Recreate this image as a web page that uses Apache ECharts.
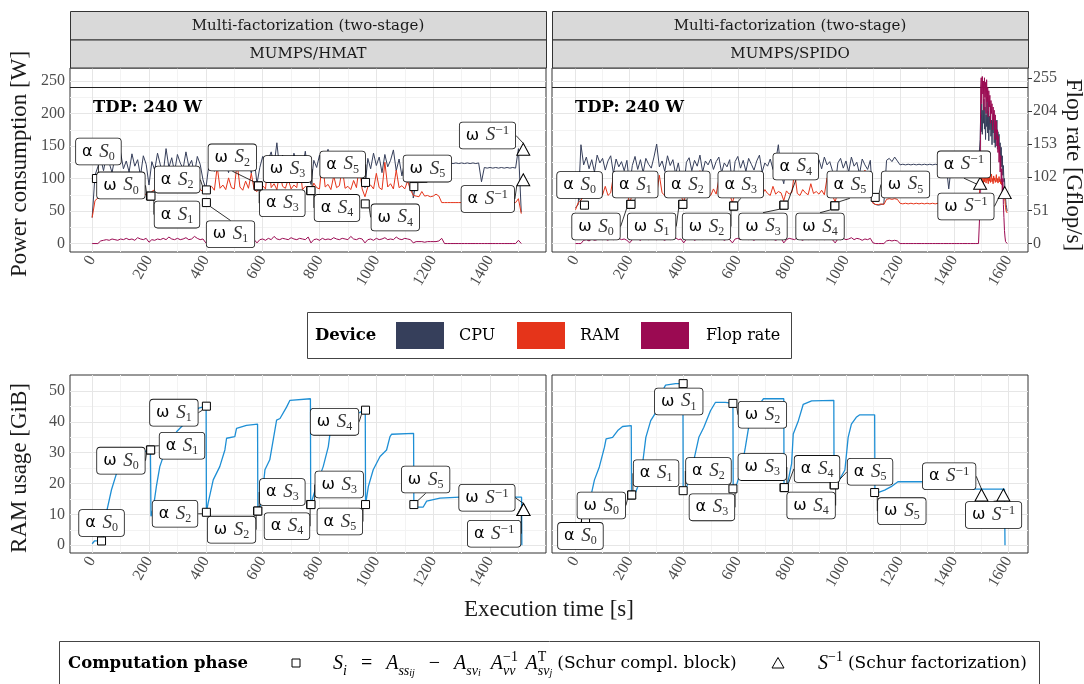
<!DOCTYPE html>
<html><head><meta charset="utf-8">
<script src="https://cdn.jsdelivr.net/npm/echarts@6/dist/echarts.min.js"></script>
<style>html,body{margin:0;padding:0;background:#fff}#c{width:1084px;height:684px}</style>
</head><body><div id="c"></div>
<script>
// ================= DATA =================
const TDP = 240;
const STEP = 10; // seconds between samples of the main power arrays
// MUMPS/HMAT power (W), t = 0,10,20,...
const cpuHmat = [
 40,105,118,131,112,136,124,109,133,121,
 140,115,127,110,138,119,129,104,135,122,
 90,126,113,139,121,108,146,117,132,110,
 137,124,115,141,119,128,107,134,122,98,
 84,119,135,111,128,143,116,125,109,138,
 121,132,114,140,118,127,108,131,92,117,
 134,112,129,141,120,155,113,136,118,127,
 110,139,122,131,115,142,108,91,128,117,
 136,113,129,145,119,132,110,138,121,126,
 107,134,118,140,123,112,86,131,115,139,
 120,133,109,137,118,128,144,112,130,104,
 127,115,135,70,95,123,124,123,124,123,
 124,123,124,123,124,123,124,123,124,123,
 124,123,124,123,124,123,124,95,117,116,
 117,116,117,116,117,116,117,116,117,116,
 146,48];
const ramHmat = [
 40,66,70,72,74,73,75,74,76,73,
 75,96,74,77,75,88,76,74,78,75,
 72,80,83,79,98,81,84,80,112,82,
 79,85,81,103,80,84,82,95,83,80,
 78,84,88,82,118,85,90,83,101,86,
 84,124,87,82,96,85,108,83,80,86,
 89,84,131,86,92,83,110,88,85,99,
 84,90,86,122,83,88,85,79,93,86,
 84,128,87,91,83,104,86,89,116,85,
 88,83,97,86,119,84,72,87,90,84,
 108,86,83,125,87,92,84,113,86,89,
 84,96,83,74,73,72,80,73,74,72,
 73,76,73,63,63,63,63,63,63,63,
 63,63,63,63,63,63,63,63,63,63,
 63,63,63,63,63,63,63,63,63,63,
 69,46];
const flopHmat = [
 0,0,0,4,5,6,5,7,6,5,
 7,6,8,6,7,5,9,7,6,8,
 2,6,5,7,6,8,6,10,7,6,
 8,6,7,9,6,7,11,8,6,7,
 1,6,5,7,8,6,7,5,9,7,
 6,8,7,10,6,7,8,6,1,6,
 7,5,8,6,11,7,6,8,7,6,
 9,7,6,8,7,6,10,1,6,7,
 5,8,6,7,6,9,7,6,8,7,
 6,11,7,6,8,7,1,6,7,5,
 8,6,7,9,6,7,6,10,7,6,
 8,7,6,1,3,3,3,2,3,3,
 3,3,4,8,0,0,0,0,0,0,
 0,0,0,0,0,0,0,0,0,0,
 0,0,0,0,0,0,0,0,0,0,
 5,0];
// MUMPS/SPIDO power (W), t = 0,10,...,1490 then fine samples every 2 s from t = 1492
const cpuSpido = [
 55,60,152,121,133,115,129,110,136,124,
 131,113,127,135,108,130,118,126,112,128,
 88,120,134,114,129,109,131,122,116,133,
 153,118,127,111,135,120,129,107,124,99,
 86,125,132,112,128,119,136,110,127,121,
 130,114,126,133,109,124,118,129,90,126,
 134,116,128,111,131,122,113,127,136,110,
 124,119,130,114,127,152,108,92,125,131,
 113,128,120,134,110,126,117,131,122,108,
 129,115,133,121,126,112,88,124,131,116,
 127,110,133,119,125,107,130,121,114,128,
 62,60,59,60,61,128,131,126,133,127,
 121,122,121,122,121,122,121,122,121,122,
 121,122,121,122,121,122,121,122,84,122,
 121,122,121,122,121,122,121,122,121,122];
const ramSpido = [
 52,63,66,74,79,72,101,76,73,80,
 75,88,74,78,104,77,73,82,76,79,
 62,76,81,74,98,77,73,86,75,79,
 76,105,78,74,82,77,96,75,80,73,
 64,78,74,87,76,79,112,75,81,77,
 74,84,76,99,78,73,80,76,63,77,
 82,75,94,78,74,81,76,107,79,75,
 83,77,74,88,76,80,78,66,81,76,
 79,110,77,74,83,78,75,92,77,80,
 76,82,75,101,78,74,64,80,77,86,
 75,79,97,76,81,74,78,113,76,79,
 62,60,60,61,60,68,69,68,69,68,
 62,61,62,61,62,61,62,61,62,61,
 62,61,62,61,62,61,62,61,62,61,
 62,61,62,61,62,61,62,61,62,61];
const flopSpido = [
 0,0,0,5,6,4,7,5,6,8,
 6,7,5,9,6,7,8,6,7,5,
 1,6,8,7,5,9,7,6,8,7,
 6,10,7,5,8,6,7,9,6,7,
 1,7,6,8,5,7,9,6,7,8,
 6,7,10,6,8,5,7,6,1,7,
 8,6,7,9,6,7,5,8,7,6,
 9,6,8,7,5,7,8,1,6,8,
 7,6,9,7,5,8,6,7,10,6,
 7,8,6,7,9,6,1,7,6,8,
 6,7,9,6,8,7,5,7,6,8,
 1,0,0,0,0,4,5,4,5,4,
 0,0,0,0,0,0,0,0,0,0,
 0,0,0,0,0,0,0,0,0,0,
 0,0,0,0,0,0,0,0,0,0];
const END_T0 = 1492, END_STEP = 2;
const cpuSpidoEnd = [122,122,160,198,172,215,168,205,185,222,176,210,160,198,180,225,170,204,158,196,175,212,165,190,152,188,170,200,155,182,148,176,160,190,145,172,150,168,138,155,130,148,118,135,105,120,95,100,82,70,60,55,50];
const ramSpidoEnd = [62,62,88,95,102,92,108,97,90,104,95,110,99,93,106,97,101,92,108,96,103,94,99,107,95,100,92,104,97,101,94,98,106,95,100,93,97,103,95,99,92,96,90,95,88,85,80,72,65,55,50,48,47];
const flopSpidoEnd = [0,0,60,240,255,215,257,230,250,205,255,225,248,200,252,218,240,195,235,210,228,185,220,200,215,175,210,190,205,160,198,170,188,150,175,140,165,125,150,110,135,95,115,80,100,60,40,20,10,3,0,0,0];

// RAM usage (GiB) [t, GiB]
const ramUseHmat = [[0,0.5],[8,1.4],[38,1.4],[44,6],[50,10.5],[68,18],[86,23.4],[110,26.5],[140,28.5],[170,30],[205,30.9],[207,9.4],[215,12],[226,19.1],[238,25.5],[262,32],[297,36.8],[320,39],[350,42],[375,44.5],[401,45.1],[402,10.7],[408,13.7],[426,21.2],[449,25.5],[467,30.9],[473,34.7],[502,35.2],[508,37.9],[543,38.9],[582,39.3],[583,11.1],[596,13.7],[608,24.5],[625,27.7],[649,40.6],[661,41.1],[684,44.8],[696,47],[768,47.5],[769,13.2],[778,15.9],[796,21.2],[813,25.5],[831,32],[837,36.3],[860,38],[884,39],[919,42.2],[961,43.8],[962,13.2],[972,19.1],[989,24.5],[1013,28.8],[1036,30.9],[1048,35.2],[1054,36],[1131,36.3],[1132,12.7],[1148,12.4],[1165,12.4],[1177,14.3],[1224,15.3],[1294,15.6],[1511,15.6],[1512,0]];
const ramUseSpido = [[15,6.2],[37,7.8],[51,13.7],[70,21.2],[88,25.4],[107,31.8],[113,34.5],[137,35],[156,37.2],[174,38.5],[206,38.8],[207,16],[217,16],[235,20.1],[248,26.5],[260,35],[278,40.4],[297,43.1],[309,47.9],[321,50],[333,51.9],[370,52.4],[397,52.4],[398,17.7],[407,17.7],[432,25.4],[456,35],[474,38.2],[499,43.6],[517,46.3],[554,46.3],[582,46],[583,18.3],[591,18.3],[615,25.4],[628,31.8],[640,38.2],[664,42.5],[689,46.8],[695,47.5],[770,47.5],[771,18.7],[781,18.7],[799,26.5],[805,36.1],[824,40.4],[842,45.7],[873,46.8],[955,47],[956,19.6],[965,19.6],[996,24.4],[1008,35],[1020,39.3],[1038,41.5],[1051,42.3],[1106,42.3],[1107,17.1],[1118,17.1],[1143,17.9],[1167,19],[1192,20.6],[1455,20.6],[1460,18.2],[1586,18.2],[1588,0]];

// Computation-phase markers [t, value, kind, index]
const markHmatPower = [[15,100,'α','0'],[205,73,'ω','0'],[207,73,'α','1'],[402,63,'ω','1'],[402,82.5,'α','2'],[584,88.7,'ω','2'],[585,88.7,'α','3'],[769,81.4,'ω','3'],[770,81.4,'α','4'],[961,61,'ω','4'],[962,94,'α','5'],[1132,87.6,'ω','5'],[1517,98,'α','-1'],[1517,145,'ω','-1']];
const markSpidoPower = [[33,59,'α','0'],[204,60.3,'ω','0'],[205,60.3,'α','1'],[396,60.3,'ω','1'],[397,60.3,'α','2'],[584,57.7,'ω','2'],[585,57.7,'α','3'],[770,59,'ω','3'],[771,59,'α','4'],[958,58,'ω','4'],[959,58,'α','5'],[1108,71,'ω','5'],[1496,92.7,'α','-1'],[1587,78.3,'ω','-1']];
const markHmatRam = [[33,1.4,'α','0'],[205,30.9,'ω','0'],[206,30.9,'α','1'],[402,45.1,'ω','1'],[402,10.7,'α','2'],[582,11.1,'ω','2'],[583,11.1,'α','3'],[769,13.2,'ω','3'],[770,13.2,'α','4'],[962,43.8,'ω','4'],[962,13.2,'α','5'],[1132,13.2,'ω','5'],[1517,11.6,'α','-1'],[1518,11.6,'ω','-1']];
const markSpidoRam = [[37,8.0,'α','0'],[207,16.3,'ω','0'],[208,16.3,'α','1'],[398,52.4,'ω','1'],[398,17.7,'α','2'],[582,46,'ω','2'],[582,18.3,'α','3'],[771,18.7,'ω','3'],[772,18.7,'α','4'],[956,19.6,'ω','4'],[957,19.6,'α','5'],[1106,17.1,'ω','5'],[1501,16.3,'α','-1'],[1582,16.3,'ω','-1']];

// tick labels
const xTicksHmat = [0,200,400,600,800,1000,1200,1400];
const xTicksSpido = [0,200,400,600,800,1000,1200,1400,1600];
const powerTicks = [0,50,100,150,200,250];
const flopTicks = [0,51,102,153,204,255];
const ramTicks = [0,10,20,30,40,50];

// ================= LAYOUT (label offsets in px, not data) =================
const offHmatPower = [[2,-27],[-29.5,-10.7],[26,18.5],[24.1,31.7],[-29.2,-10.3],[-25.8,-28.5],[23.9,17.3],[-23.2,-21.5],[26,17.3],[30,13.5],[-22.9,-18],[13.5,-18],[-35.5,19.2],[-35.8,-13.8]];
const offSpidoPower = [[-4.9,-20.2],[-34.7,22.2],[4.3,-19.8],[-31,22.2],[4.4,-19.8],[-27,20.5],[7,-21.5],[-20.8,21.3],[11.7,-38.7],[-14.6,20.7],[14.9,-21.3],[30.3,-12.9],[-16.2,-18.9],[-38.8,13.8]];
const offHmatRam = [[0,-18],[-29.5,10.7],[31.3,-4.2],[-32.5,6.5],[-31.4,1.5],[-26,18.6],[24.5,-19],[28.5,-20],[-24,21.7],[-31,11.7],[-25.7,17],[11.8,-25],[-29.1,24.2],[-36.6,-11.7]];
const offSpidoRam = [[-5.1,15.3],[-30.2,10.5],[24.3,-21.7],[-4.4,17.8],[25.3,-19.7],[29.5,11.4],[-21,18.5],[-21.8,-20.5],[32.7,-18.7],[-23,20.7],[35.7,-13],[27.2,18.6],[-32.3,-18.7],[-9.8,20]];

const C = {cpu:'#363F5B', ram:'#E5341A', flop:'#9B0A52', use:'#1E8FD5'};
const SERIF = 'Liberation Serif';

const toXY = (arr, t0, step) => arr.map((v,i)=>[t0+i*step, v]);
const spidoSeries = (a, b) => toXY(a,0,STEP).concat(toXY(b,END_T0,END_STEP));

function gridLines(xi, yi, xMaj, xMin, yMaj, yMin) {
  const maj = {color:'#E6E6E6', width:1, type:'solid'};
  const mnr = {color:'#F3F3F3', width:1, type:'solid'};
  const d = [];
  xMin.forEach(v=>d.push({xAxis:v, lineStyle:mnr}));
  yMin.forEach(v=>d.push({yAxis:v, lineStyle:mnr}));
  xMaj.forEach(v=>d.push({xAxis:v, lineStyle:maj}));
  yMaj.forEach(v=>d.push({yAxis:v, lineStyle:maj}));
  return {type:'line', xAxisIndex:xi, yAxisIndex:yi, data:[], silent:true, z:1,
    markLine:{silent:true, symbol:['none','none'], label:{show:false}, z:1, animation:false, emphasis:{disabled:true}, data:d}};
}
function lineSeries(xi, yi, data, color, z, width) {
  return {type:'line', xAxisIndex:xi, yAxisIndex:yi, data, showSymbol:false, symbol:'none',
    lineStyle:{color, width:width||1}, itemStyle:{color}, z, silent:true, sampling:null, emphasis:{disabled:true}};
}
const RICH = {
  g:{fontFamily:'DejaVu Sans', fontSize:16, color:'#000', lineHeight:22},
  s:{fontFamily:SERIF, fontStyle:'italic', fontSize:19, color:'#333', lineHeight:22},
  sub:{fontFamily:SERIF, fontSize:12, color:'#333', verticalAlign:'bottom', lineHeight:9},
  sup:{fontFamily:SERIF, fontSize:13, color:'#333', verticalAlign:'top', lineHeight:6}
};
const fmt = p => {
  const d = p.data;
  return d.idx === '-1' ? `{g|${d.kind}}  {s|S}{sup|−1}` : `{g|${d.kind}}  {s|S}{sub|${d.idx}}`;
};
function markSeries(xi, yi, marks, offs) {
  return {
    type:'scatter', xAxisIndex:xi, yAxisIndex:yi, z:10, silent:true,
    data: marks.map(m=>({value:[m[0],m[1]], kind:m[2], idx:m[3],
      symbol: m[3]==='-1'?'triangle':'rect', symbolSize: m[3]==='-1'?[13,12]:8})),
    itemStyle:{color:'#fff', borderColor:'#000', borderWidth:1, opacity:1},
    label:{show:true, position:'inside', formatter: fmt, backgroundColor:'#fff', borderColor:'#111', borderWidth:0.8, borderRadius:3, padding:[2,6,2,6], rich: RICH},
    labelLayout: p=>({dx: offs[p.dataIndex][0], dy: offs[p.dataIndex][1]}),
    labelLine:{show:true, lineStyle:{color:'#000', width:0.8}},
    emphasis:{disabled:true}
  };
}
const axisLabelStyle = {fontFamily:SERIF, fontSize:16, color:'#4D4D4D', formatter: v => String(v)};
function xAxis(gi, min, max, ticks) {
  return {type:'value', gridIndex:gi, min, max, axisLine:{show:false},
    axisTick:{show:true, customValues:ticks, length:4, lineStyle:{color:'#333'}},
    axisLabel:Object.assign({customValues:ticks, rotate:60, margin:5}, axisLabelStyle),
    splitLine:{show:false}};
}
function yAxis(gi, min, max, ticks, show, pos) {
  return {type:'value', gridIndex:gi, min, max, position:pos||'left', axisLine:{show:false},
    axisTick:{show:show, customValues:ticks, length:4, lineStyle:{color:'#333'}},
    axisLabel:Object.assign({show:show, customValues:ticks, margin:5}, axisLabelStyle),
    splitLine:{show:false}};
}
const rng = (a,b,s)=>{const r=[];for(let v=a;v<=b+1e-9;v+=s)r.push(v);return r;};

const X_H = [-78,1597], X_S = [-87,1673], Y_P = [-13,270], Y_R = [-2.5,55.2];

const option = {
  animation:false,
  backgroundColor:'#fff',
  grid:[
    {left:70, top:68, width:476, height:184, show:true, borderColor:'#333', borderWidth:1, backgroundColor:'#fff'},
    {left:552, top:68, width:476, height:184, show:true, borderColor:'#333', borderWidth:1, backgroundColor:'#fff'},
    {left:70, top:375, width:476, height:178, show:true, borderColor:'#333', borderWidth:1, backgroundColor:'#fff'},
    {left:552, top:375, width:476, height:178, show:true, borderColor:'#333', borderWidth:1, backgroundColor:'#fff'}
  ],
  xAxis:[ xAxis(0,X_H[0],X_H[1],xTicksHmat), xAxis(1,X_S[0],X_S[1],xTicksSpido), xAxis(2,X_H[0],X_H[1],xTicksHmat), xAxis(3,X_S[0],X_S[1],xTicksSpido) ],
  yAxis:[ yAxis(0,Y_P[0],Y_P[1],powerTicks,true), yAxis(1,Y_P[0],Y_P[1],powerTicks,false), yAxis(2,Y_R[0],Y_R[1],ramTicks,true), yAxis(3,Y_R[0],Y_R[1],ramTicks,false), yAxis(1,Y_P[0],Y_P[1],flopTicks,true,'right') ],
  series:[
    gridLines(0,0,rng(0,1400,200),rng(100,1500,200),rng(0,250,50),rng(25,225,50)),
    gridLines(1,1,rng(0,1600,200),rng(100,1500,200),rng(0,250,50),rng(25,225,50)),
    gridLines(2,2,rng(0,1400,200),rng(100,1500,200),rng(0,50,10),rng(5,45,10)),
    gridLines(3,3,rng(0,1600,200),rng(100,1500,200),rng(0,50,10),rng(5,45,10)),
    Object.assign(lineSeries(0,0,toXY(cpuHmat,0,STEP),C.cpu,3), {markLine:{silent:true,symbol:['none','none'],label:{show:false},lineStyle:{color:'#222',width:1.2,type:'solid'},data:[{yAxis:TDP}]}}),
    lineSeries(0,0,toXY(ramHmat,0,STEP),C.ram,4),
    lineSeries(0,0,toXY(flopHmat,0,STEP),C.flop,5),
    Object.assign(lineSeries(1,1,spidoSeries(cpuSpido,cpuSpidoEnd),C.cpu,3), {markLine:{silent:true,symbol:['none','none'],label:{show:false},lineStyle:{color:'#222',width:1.2,type:'solid'},data:[{yAxis:TDP}]}}),
    lineSeries(1,1,spidoSeries(ramSpido,ramSpidoEnd),C.ram,4),
    lineSeries(1,4,spidoSeries(flopSpido,flopSpidoEnd),C.flop,5),
    lineSeries(2,2,ramUseHmat,C.use,3,1.3),
    lineSeries(3,3,ramUseSpido,C.use,3,1.3),
    markSeries(0,0,markHmatPower,offHmatPower),
    markSeries(1,1,markSpidoPower,offSpidoPower),
    markSeries(2,2,markHmatRam,offHmatRam),
    markSeries(3,3,markSpidoRam,offSpidoRam)
  ],
  graphic:[]
};

// ---------- graphic: strips, titles, legends ----------
const G = option.graphic;
const txt = (x,y,text,font,extra) => Object.assign({type:'text', x, y, silent:true, z:50,
  style:{text, font, fill:'#1A1A1A', textAlign:'center', textVerticalAlign:'middle', align:'center', verticalAlign:'middle'}}, extra||{});
[[70],[552]].forEach(([l])=>{
  G.push({type:'rect', silent:true, z:40, shape:{x:l+0.5,y:11.5,width:476,height:28.5}, style:{fill:'#D9D9D9', stroke:'#333', lineWidth:1}});
  G.push({type:'rect', silent:true, z:40, shape:{x:l+0.5,y:40,width:476,height:28}, style:{fill:'#D9D9D9', stroke:'#333', lineWidth:1}});
  G.push(txt(l+238,26,'Multi-factorization (two-stage)','15px "DejaVu Serif"'));
});
G.push(txt(308,54,'MUMPS/HMAT','15px "DejaVu Serif"'));
G.push(txt(790,54,'MUMPS/SPIDO','15px "DejaVu Serif"'));
const leftTxt = (x,y,text,font) => ({type:'text', x, y, silent:true, z:50,
  style:{text, font, fill:'#000', textAlign:'left', textVerticalAlign:'middle', align:'left', verticalAlign:'middle'}});
G.push(leftTxt(93,108,'TDP: 240 W','bold 16.5px "DejaVu Serif"'));
G.push(leftTxt(575,108,'TDP: 240 W','bold 16.5px "DejaVu Serif"'));
G.push(txt(20,164,'Power consumption [W]','23px "Liberation Serif"',{rotation:Math.PI/2}));
G.push(txt(20,468,'RAM usage [GiB]','23px "Liberation Serif"',{rotation:Math.PI/2}));
G.push(txt(1073,165,'Flop rate [Gflop/s]','23px "Liberation Serif"',{rotation:-Math.PI/2}));
G.push(txt(549,610,'Execution time [s]','23px "Liberation Serif"'));
// Device legend
G.push({type:'rect', silent:true, z:40, shape:{x:307.5,y:312.5,width:484,height:46}, style:{fill:'#fff', stroke:'#444', lineWidth:1}});
G.push(leftTxt(315,336,'Device','bold 16.5px "DejaVu Serif"'));
[[396,C.cpu,'CPU',459],[517,C.ram,'RAM',580],[641,C.flop,'Flop rate',706]].forEach(([x,c,t,tx])=>{
  G.push({type:'rect', silent:true, z:41, shape:{x,y:322,width:48,height:27}, style:{fill:c}});
  G.push(leftTxt(tx,336,t,'16px "DejaVu Serif"'));
});
// Computation phase legend
G.push({type:'rect', silent:true, z:40, shape:{x:59.5,y:641.5,width:980,height:60}, style:{fill:'#fff', stroke:'#444', lineWidth:1}});
G.push(leftTxt(68,664,'Computation phase','bold 16.5px "DejaVu Serif"'));
G.push({type:'rect', silent:true, z:41, shape:{x:292,y:659,width:8,height:8}, style:{fill:'#fff', stroke:'#000', lineWidth:1}});
G.push({type:'polygon', silent:true, z:41, shape:{points:[[772,668],[784,668],[778,657.5]]}, style:{fill:'#fff', stroke:'#000', lineWidth:1}});
const FR = {
  t:{fontFamily:SERIF, fontSize:20, color:'#000', lineHeight:28},
  u:{fontFamily:'DejaVu Serif', fontSize:17, color:'#000', lineHeight:28},
  i:{fontFamily:SERIF, fontStyle:'italic', fontSize:20, color:'#000', lineHeight:28},
  sb:{fontFamily:SERIF, fontStyle:'italic', fontSize:14, color:'#000', verticalAlign:'bottom', lineHeight:11},
  ssb:{fontFamily:SERIF, fontStyle:'italic', fontSize:10, color:'#000', verticalAlign:'bottom', lineHeight:4},
  sp:{fontFamily:SERIF, fontSize:14, color:'#000', verticalAlign:'top', lineHeight:8},
  spz:{fontFamily:SERIF, fontSize:14, color:'#000', verticalAlign:'top', lineHeight:8, width:0.1},
  g:{fontSize:10, width:14, lineHeight:28},
  h:{fontSize:10, width:10, lineHeight:28},
  k:{fontSize:10, width:5, lineHeight:28}
};
G.push({type:'text', x:333, y:664, silent:true, z:50, style:{
  text:'{i|S}{sb|i}{g| }{t|=}{g| }{i|A}{sb|ss}{ssb|ij}{g| }{t|−}{g| }{i|A}{sb|sv}{ssb|i}{h| }{i|A}{spz|−1}{sb|vv}{h| }{i|A}{spz|T}{sb|sv}{ssb|j}{k| }{u|(Schur compl. block)}',
  rich:FR, textAlign:'left', align:'left', textVerticalAlign:'middle', verticalAlign:'middle'}});
G.push({type:'text', x:818, y:664, silent:true, z:50, style:{
  text:'{i|S}{sp|−1}{k| }{u|(Schur factorization)}', rich:FR, textAlign:'left', align:'left', textVerticalAlign:'middle', verticalAlign:'middle'}});

const chart = echarts.init(document.getElementById('c'), null, {renderer:'canvas', width:1084, height:684});
chart.setOption(option);
</script></body></html>
